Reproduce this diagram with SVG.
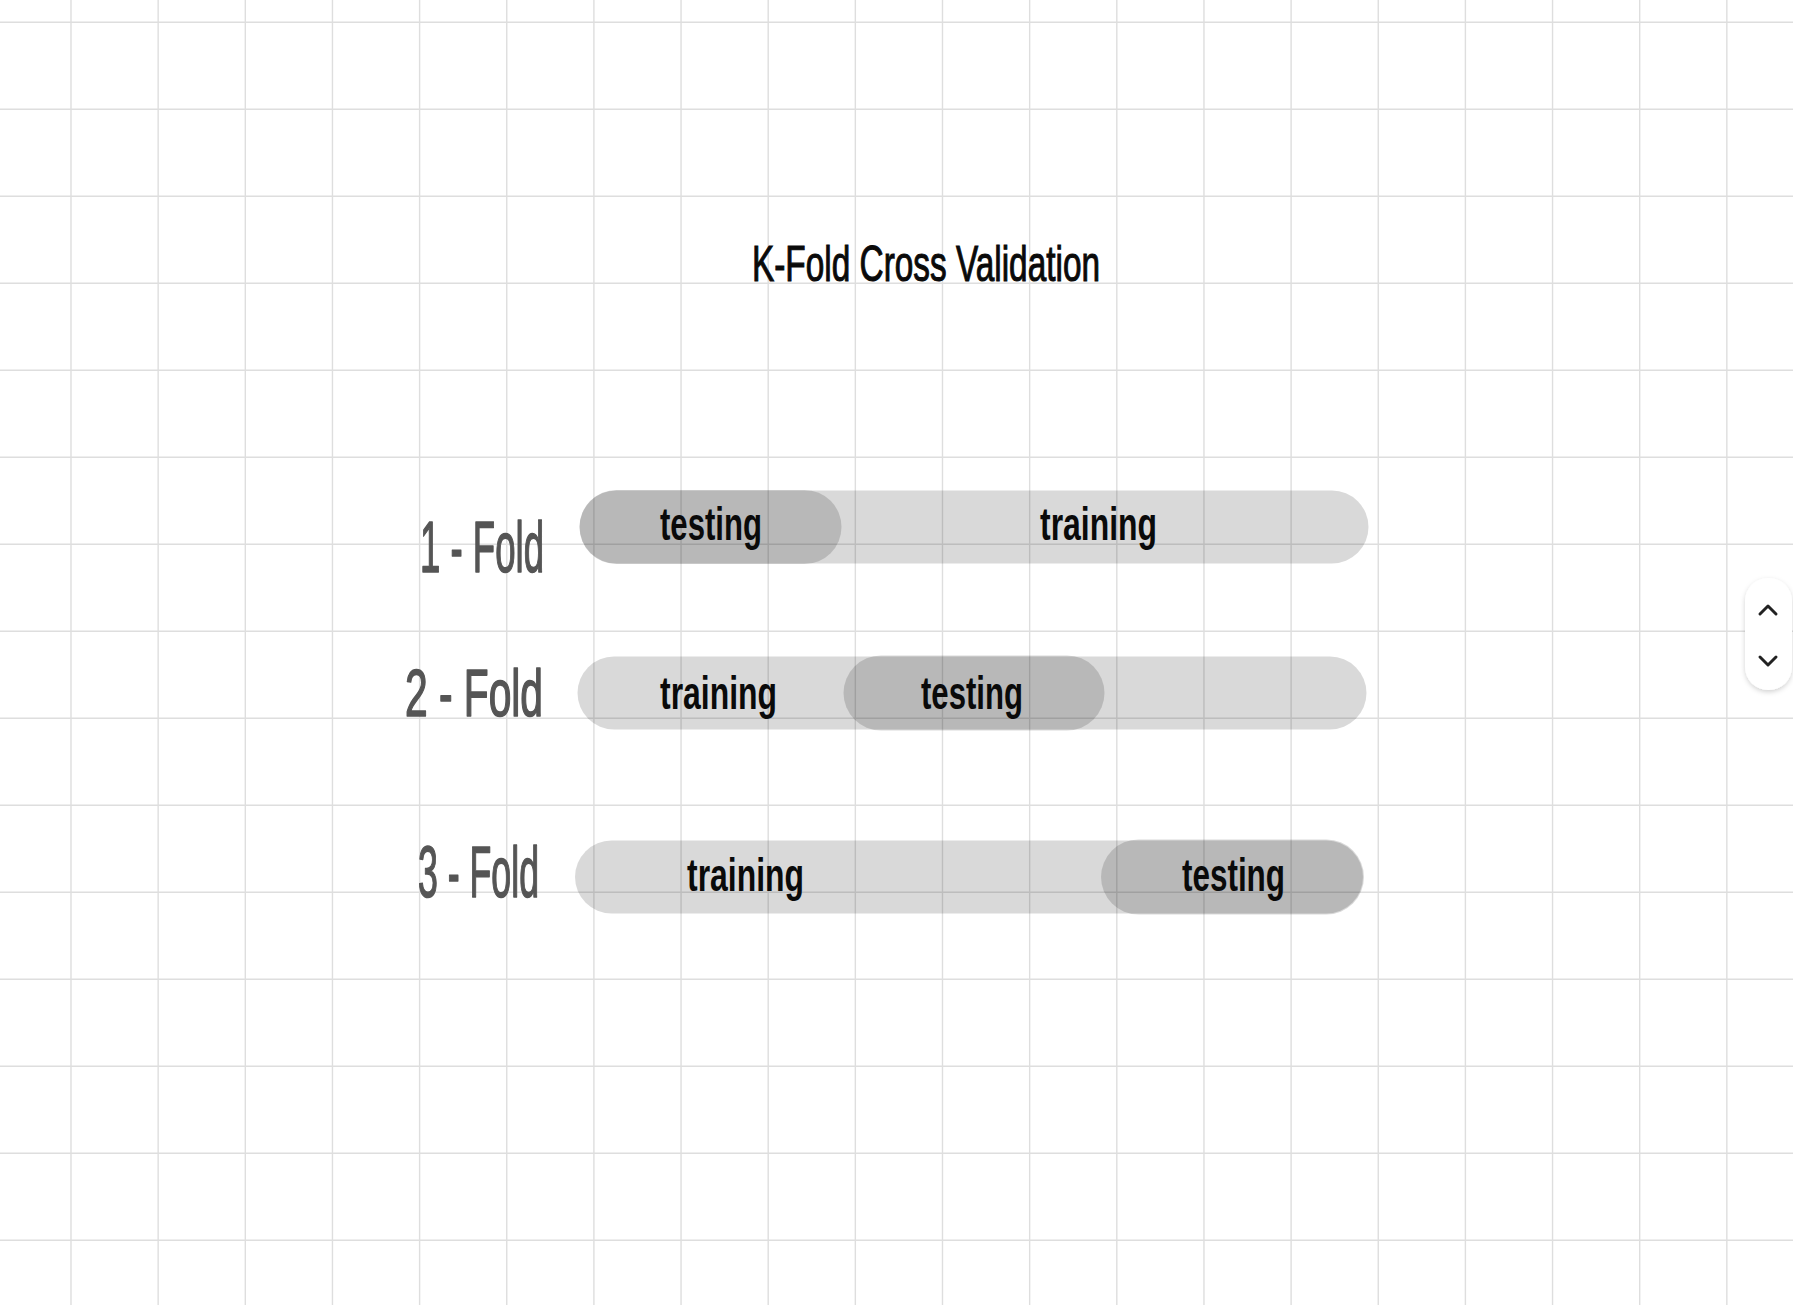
<svg xmlns="http://www.w3.org/2000/svg" width="1793" height="1305" viewBox="0 0 1793 1305">
<defs>
<style>
.grid{stroke:#dedede;stroke-width:1.4;fill:none}
.bar{fill:#000;fill-opacity:0.15}
.lbl{font-family:'Liberation Sans Narrow','Liberation Sans',sans-serif;font-weight:bold;font-size:47px;fill:#0a0a0a}
.title{font-family:'Liberation Sans Narrow','Liberation Sans',sans-serif;font-size:50px;fill:#0a0a0a;stroke:#0a0a0a;stroke-width:1.1}
.hand{font-family:'Liberation Sans Narrow','Liberation Sans',sans-serif;fill:#555;stroke:#555;stroke-width:1.6;stroke-linejoin:round}
.chev{fill:none;stroke:#222;stroke-width:3;stroke-linecap:round;stroke-linejoin:round}
</style>
<filter id="sh" x="-50%" y="-30%" width="200%" height="160%">
<feDropShadow dx="0" dy="2" stdDeviation="2.5" flood-color="#000" flood-opacity="0.18"/>
</filter>
</defs>
<rect width="1793" height="1305" fill="#ffffff"/>
<g id="grid">
<path class="grid" d="M71,0V1305M158.15,0V1305M245.3,0V1305M332.45,0V1305M419.6,0V1305M506.75,0V1305M593.9,0V1305M681.05,0V1305M768.2,0V1305M855.35,0V1305M942.5,0V1305M1029.65,0V1305M1116.8,0V1305M1203.95,0V1305M1291.1,0V1305M1378.25,0V1305M1465.4,0V1305M1552.55,0V1305M1639.7,0V1305M1726.85,0V1305"/>
<path class="grid" d="M0,22.3H1793M0,109.3H1793M0,196.3H1793M0,283.3H1793M0,370.3H1793M0,457.3H1793M0,544.3H1793M0,631.3H1793M0,718.3H1793M0,805.3H1793M0,892.3H1793M0,979.3H1793M0,1066.3H1793M0,1153.3H1793M0,1240.3H1793"/>
</g>
<g id="title">
<text class="title" x="752" y="281" textLength="348" lengthAdjust="spacingAndGlyphs">K-Fold Cross Validation</text>
</g>
<g id="fold1">
<text class="hand" x="420" y="572" font-size="72" textLength="124" lengthAdjust="spacingAndGlyphs">1 - Fold</text>
<rect class="bar" x="579.5" y="490.5" width="789" height="73" rx="36.5"/>
<rect class="bar" x="579.5" y="490" width="262" height="74" rx="37"/>
<text class="lbl" x="660" y="539.5" textLength="102" lengthAdjust="spacingAndGlyphs">testing</text>
<text class="lbl" x="1040" y="540" textLength="117" lengthAdjust="spacingAndGlyphs">training</text>
</g>
<g id="fold2">
<text class="hand" x="405" y="716" font-size="66" textLength="138" lengthAdjust="spacingAndGlyphs">2 - Fold</text>
<rect class="bar" x="577.5" y="656.5" width="789" height="73" rx="36.5"/>
<rect class="bar" x="843.5" y="655.5" width="261" height="75" rx="37.5"/>
<text class="lbl" x="660" y="709" textLength="117" lengthAdjust="spacingAndGlyphs">training</text>
<text class="lbl" x="921" y="709" textLength="102" lengthAdjust="spacingAndGlyphs">testing</text>
</g>
<g id="fold3">
<text class="hand" x="418" y="897" font-size="72" textLength="121" lengthAdjust="spacingAndGlyphs">3 - Fold</text>
<rect class="bar" x="575" y="840.5" width="788" height="73" rx="36.5"/>
<rect class="bar" x="1101" y="839.5" width="263" height="75" rx="37.5"/>
<text class="lbl" x="687" y="891" textLength="117" lengthAdjust="spacingAndGlyphs">training</text>
<text class="lbl" x="1182" y="891" textLength="103" lengthAdjust="spacingAndGlyphs">testing</text>
</g>
<g id="scroller">
<rect x="1745" y="578" width="47" height="112" rx="23" fill="#fff" filter="url(#sh)"/>
<polyline class="chev" points="1760,614 1768,606 1776,614"/>
<polyline class="chev" points="1760,657 1768,665 1776,657"/>
</g>
</svg>
